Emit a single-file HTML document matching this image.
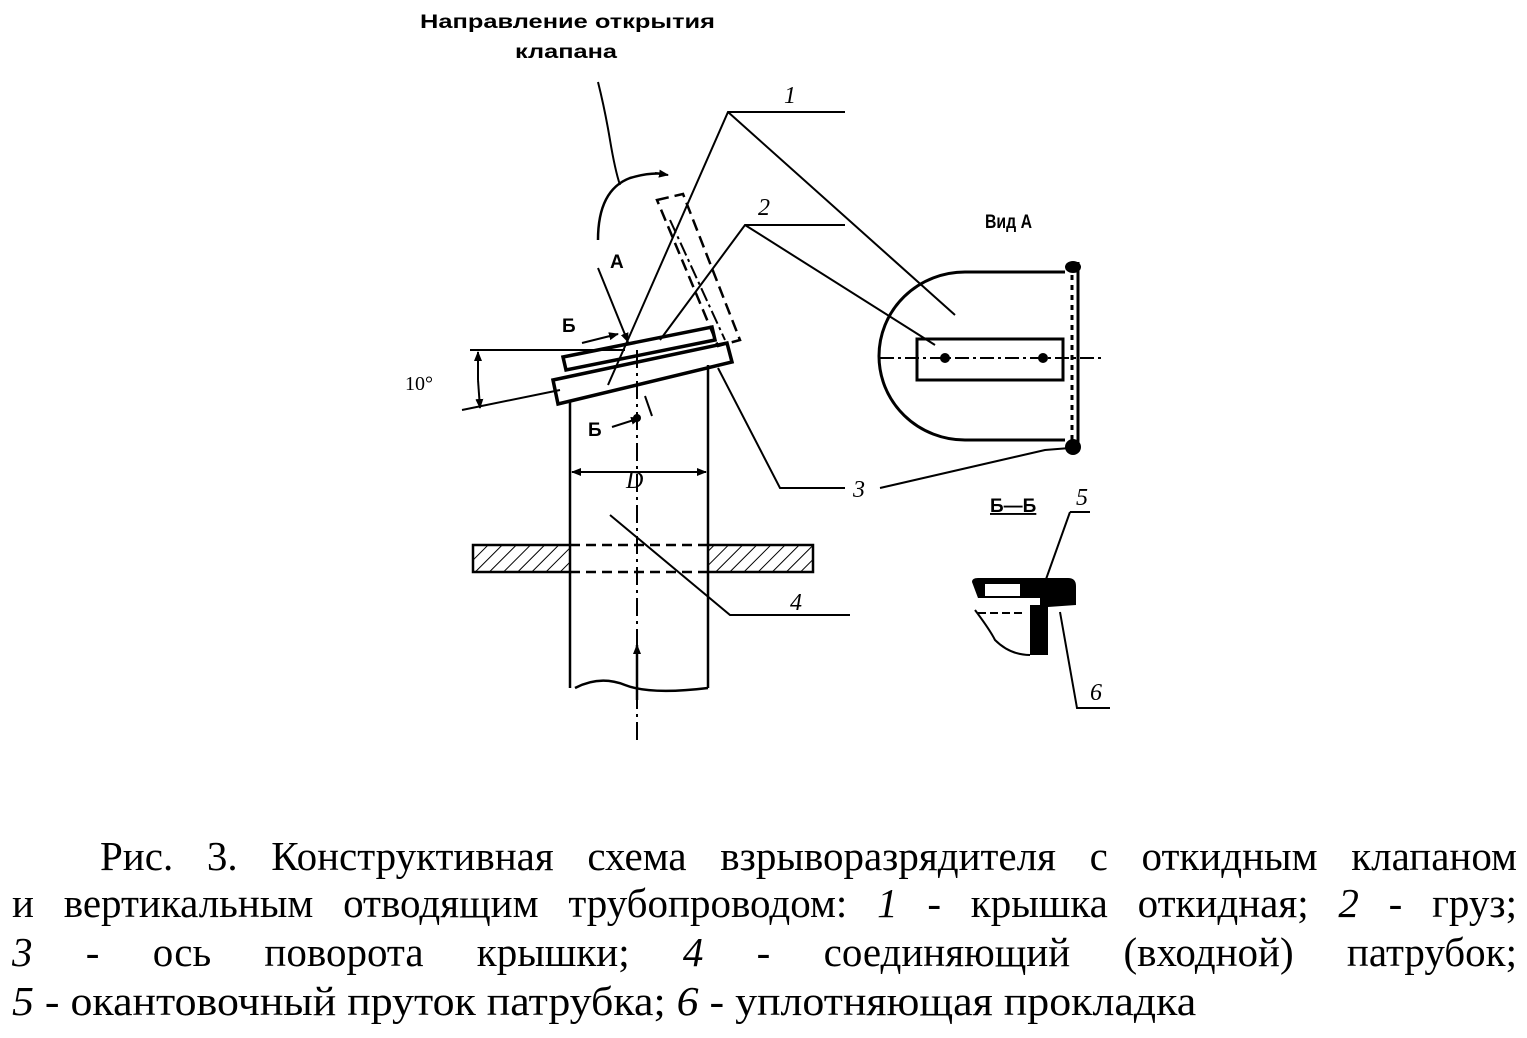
<!DOCTYPE html>
<html><head><meta charset="utf-8"><style>
html,body{margin:0;padding:0;background:#fff;}
svg{display:block;position:absolute;left:0;top:0;}
text{font-family:"Liberation Serif",serif;fill:#000;}
.s{font-family:"Liberation Sans",sans-serif;font-weight:bold;}
.cap{position:absolute;font-family:"Liberation Serif",serif;font-size:41px;line-height:48px;color:#000;white-space:nowrap;}
.j{text-align:justify;text-align-last:justify;}
</style></head><body>
<svg width="1527" height="1038" viewBox="0 0 1527 1038" xmlns="http://www.w3.org/2000/svg">
<defs>
<pattern id="h" width="10" height="10" patternUnits="userSpaceOnUse" patternTransform="rotate(45)">
<line x1="0" y1="0" x2="0" y2="10" stroke="#000" stroke-width="2"/></pattern>
<marker id="ar" markerWidth="10" markerHeight="10" refX="9" refY="5" orient="auto" markerUnits="userSpaceOnUse"><path d="M0,1 L10,5 L0,9 z" fill="#000"/></marker>
</defs>
<g stroke="#000" fill="none" stroke-width="2.5">
<line x1="570" y1="400" x2="570" y2="545"/><line x1="570" y1="572" x2="570" y2="688"/>
<line x1="708" y1="365" x2="708" y2="545"/><line x1="708" y1="572" x2="708" y2="688"/>
<path d="M575,688 Q600,675 625,685 T708,688"/>
<rect x="473" y="545" width="97" height="27" fill="url(#h)"/>
<rect x="708" y="545" width="105" height="27" fill="url(#h)"/>
<line x1="570" y1="545" x2="708" y2="545" stroke-dasharray="10,6"/>
<line x1="570" y1="572" x2="708" y2="572" stroke-dasharray="10,6"/>
<line x1="637" y1="350" x2="637" y2="740" stroke-width="2" stroke-dasharray="18,5,3,5"/>
<line x1="637" y1="700" x2="637" y2="645" marker-end="url(#ar)"/>
<line x1="637" y1="472" x2="572" y2="472" marker-end="url(#ar)" stroke-width="2"/>
<line x1="637" y1="472" x2="706" y2="472" marker-end="url(#ar)" stroke-width="2"/>
<polygon points="553,380 727,343 732,362 558,404" stroke-width="3.5"/>
<polygon points="563,357 712,327 715,340 566,370" stroke-width="3.5"/>
<polygon points="657,200 683,194 740,340 718,346" stroke-dasharray="12,6"/>
<line x1="670" y1="220" x2="725" y2="340" stroke-width="2" stroke-dasharray="14,4,3,4"/>
<line x1="470" y1="350" x2="625" y2="350" stroke-width="2"/>
<line x1="462" y1="410" x2="560" y2="390" stroke-width="2"/>
<line x1="478" y1="380" x2="478" y2="352" marker-end="url(#ar)" stroke-width="2"/>
<line x1="478" y1="380" x2="480" y2="408" marker-end="url(#ar)" stroke-width="2"/>
<polyline points="608,385 728,112 845,112" stroke-width="2"/>
<line x1="728" y1="112" x2="955" y2="315" stroke-width="2"/>
<polyline points="660,340 745,225 845,225" stroke-width="2"/>
<line x1="745" y1="225" x2="935" y2="345" stroke-width="2"/>
<polyline points="718,368 780,488 845,488" stroke-width="2"/>
<polyline points="880,488 1045,450 1070,448" stroke-width="2"/>
<polyline points="610,515 730,615 850,615" stroke-width="2"/>
<path d="M598,240 Q598,190 630,178 Q650,172 665,174" stroke-width="2.5"/>
<line x1="655" y1="173" x2="668" y2="175" marker-end="url(#ar)" stroke-width="2"/>
<path d="M598,82 Q605,110 610,140 Q615,170 620,185" stroke-width="2"/>
<line x1="598" y1="268" x2="628" y2="342" marker-end="url(#ar)" stroke-width="2"/>
<line x1="582" y1="343" x2="618" y2="334" marker-end="url(#ar)" stroke-width="2"/>
<line x1="612" y1="427" x2="640" y2="418" marker-end="url(#ar)" stroke-width="2"/>
<line x1="645" y1="396" x2="652" y2="416" stroke-width="2"/>
<path d="M1065,272 L965,272 A86,84 0 0 0 965,440 L1065,440" stroke-width="3"/>
<line x1="1078" y1="262" x2="1078" y2="452" stroke-width="3"/>
<line x1="1072" y1="275" x2="1072" y2="440" stroke-width="3" stroke-dasharray="5,5"/>
<rect x="917" y="339" width="146" height="41" stroke-width="3"/>
<line x1="880" y1="358" x2="1105" y2="358" stroke-width="2" stroke-dasharray="14,4,3,4"/>
<line x1="1045" y1="582" x2="1070" y2="512" stroke-width="2"/><line x1="1070" y1="512" x2="1090" y2="512" stroke-width="2"/>
<polyline points="1060,612 1077,708 1110,708" stroke-width="2"/>
<path d="M975,610 Q990,630 995,640 Q1010,655 1030,655" stroke-width="2"/>
<line x1="978" y1="613" x2="1025" y2="613" stroke-width="2" stroke-dasharray="8,4"/>
</g>
<g fill="#000">
<circle cx="945" cy="358" r="5"/><circle cx="1043" cy="358" r="5"/>
<ellipse cx="1073" cy="267" rx="8" ry="6"/><circle cx="1073" cy="447" r="8"/>
<circle cx="637" cy="418" r="4"/>
<path d="M972,582 Q972,578 978,578 L1068,578 Q1076,578 1076,586 L1076,605 L1048,607 L1048,655 L1030,655 L1030,605 L1040,605 L1040,598 L978,598 Z"/>
<rect x="985" y="584" width="35" height="12" fill="#fff"/>
</g>
<text x="420" y="28" class="s" font-size="19" textLength="295" lengthAdjust="spacingAndGlyphs">Направление открытия</text>
<text x="515" y="58" class="s" font-size="19" textLength="102" lengthAdjust="spacingAndGlyphs">клапана</text>
<text x="784" y="103" font-size="24" font-style="italic">1</text>
<text x="758" y="215" font-size="24" font-style="italic">2</text>
<text x="853" y="497" font-size="24" font-style="italic">3</text>
<text x="790" y="610" font-size="24" font-style="italic">4</text>
<text x="1076" y="505" font-size="24" font-style="italic">5</text>
<text x="1090" y="700" font-size="24" font-style="italic">6</text>
<text x="610" y="268" class="s" font-size="19">А</text>
<text x="562" y="332" class="s" font-size="19">Б</text>
<text x="588" y="436" class="s" font-size="19">Б</text>
<text x="626" y="488" font-size="24" font-style="italic">D</text>
<text x="405" y="390" font-size="20">10°</text>
<text x="985" y="228" class="s" font-size="19" textLength="47" lengthAdjust="spacingAndGlyphs">Вид А</text>
<text x="990" y="512" class="s" font-size="19" text-decoration="underline">Б—Б</text>
</svg>
<div class="cap j" style="left:100px;top:832px;width:1417px;">Рис. 3. Конструктивная схема взрыворазрядителя с откидным клапаном</div>
<div class="cap j" style="left:12px;top:879px;width:1505px;">и вертикальным отводящим трубопроводом: <i>1</i> - крышка откидная; <i>2</i> - груз;</div>
<div class="cap j" style="left:12px;top:928px;width:1505px;"><i>3</i> - ось поворота крышки; <i>4</i> - соединяющий (входной) патрубок;</div>
<div class="cap" style="left:12px;top:977px;transform:scaleX(1.07);transform-origin:0 0;"><i>5</i> - окантовочный пруток патрубка; <i>6</i> - уплотняющая прокладка</div>
</body></html>
